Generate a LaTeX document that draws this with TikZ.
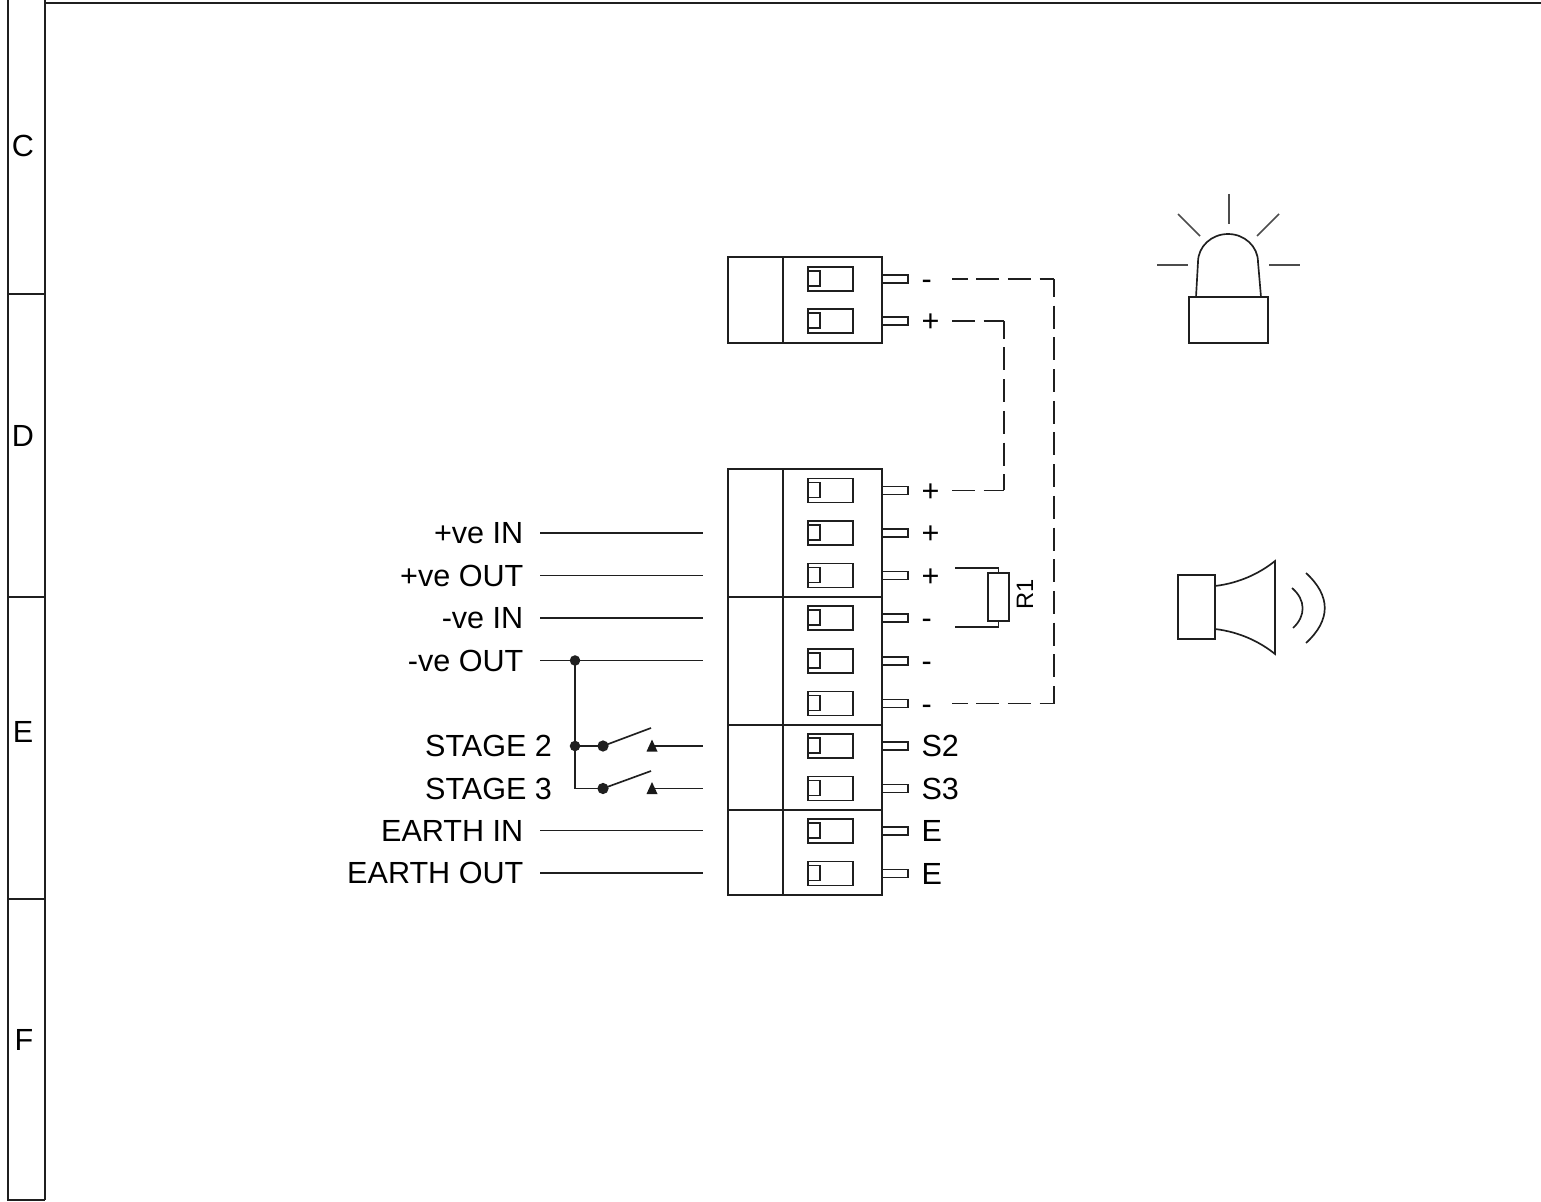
\documentclass[tikz,border=0pt]{standalone}
\usepackage{fontspec}
\setmainfont{Liberation Sans}
\usepackage{tikz}
\usetikzlibrary{positioning,calc}
\tikzset{
  wireline/.style={line width=0.95pt,black!88},
  alarmwire/.style={line width=0.95pt,black!88,dash pattern=on 13.1pt off 4.94pt,dash phase=#1},
  alarmwire/.default=0pt,
  wirelabel/.style={font=\fontsize{17.4}{20}\selectfont,text height=12.4pt,text depth=0pt,anchor=east,inner xsep=9.5pt,inner ysep=0pt,outer sep=0pt},
  pinlabel/.style={font=\fontsize{17.4}{20}\selectfont,text height=12.4pt,text depth=0pt,anchor=west,inner sep=0pt,outer sep=0pt},
  zonelabel/.style={font=\fontsize{17.4}{20}\selectfont,inner sep=0pt},
  junction/.style={circle,fill=black!88,inner sep=0pt,minimum size=#1},
}

\begin{document}
\begin{tikzpicture}[x=0.02cm,y=-0.02cm]
        \useasboundingbox (0,0) rectangle (1541,1202);

        % drawing frame
        \draw[wireline] (8,0) -- (8,1200) -- (45,1200);
        \draw[wireline] (45,1200) -- (45,3) -- (1541,3);
        \draw[wireline] (45,0) -- (45,3);
        \foreach \y in {294,597,899}
          \draw[wireline] (8,\y) -- (45,\y);
        \node[zonelabel] (zoneC) at (23,146) {C};
        \node[zonelabel] (zoneD) at (23,436) {D};
        \node[zonelabel] (zoneE) at (23,732) {E};
        \node[zonelabel] (zoneF) at (24,1040) {F};

        % terminal blocks
        \draw[wireline] (728,257) rectangle (882,343);
        \draw[wireline] (783,257) -- (783,343);
        \draw[wireline] (728,469) rectangle (882,895);
        \draw[wireline] (783,469) -- (783,895);
        \foreach \y in {597,725,810}
          \draw[wireline] (728,\y) -- (882,\y);

        % terminals
        \foreach \tname/\y/\txt in {t1/279/-,t2/321/+,t3/490.5/+,t4/533/+,t5/575.5/+,t6/618/-,t7/661/-,t8/703.5/-,t9/746/S2,t10/788.5/S3,t11/831/E,t12/873.5/E}{
          \draw[wireline] (808,\y-12) rectangle (853,\y+12);
          \draw[wireline] (808,\y-8) rectangle (820,\y+7);
          \draw[wireline] (882,\y-4) rectangle (908,\y+4);
          \node[pinlabel] (\tname) at (921.5,\y) {\txt};
        }

        % field wiring
        \foreach \wname/\y/\txt in {w1/533/+ve IN,w2/575.5/+ve OUT,w3/618/-ve IN,w4/660.5/-ve OUT,w5/830.5/EARTH IN,w6/873/EARTH OUT}{
          \node[wirelabel] (\wname) at (540,\y) {\txt};
          \coordinate (\wname end) at (703,\y);
          \draw[wireline] (\wname.east) -- (\wname end);
        }
        \node[wirelabel,inner xsep=0pt] (stageA) at (552,746) {STAGE 2};
        \node[wirelabel,inner xsep=0pt] (stageB) at (552,788.5) {STAGE 3};

        % stage switches
        \node[junction=6pt] (jA) at (575,660.5) {};
        \node[junction=6pt] (jB) at (575,746) {};
        \node[junction=6.4pt] (swA) at (603,746) {};
        \node[junction=6.4pt] (swB) at (603,788.5) {};
        \coordinate (cornerB) at (575,788.5);
        \draw[wireline] (jA.center) -- (jB.center) -- (cornerB) -- (swB.center);
        \draw[wireline] (jB.center) -- (swA.center);
        \coordinate (bladeA) at (651,728);
        \coordinate (bladeB) at (651,771);
        \draw[wireline] (swA.center) -- (bladeA);
        \draw[wireline] (swB.center) -- (bladeB);
        \foreach \y/\cname in {746/A,788.5/B}{
          \coordinate (contact\cname) at (653,\y);
          \coordinate (return\cname) at (703,\y);
          \draw[wireline] (contact\cname) -- (return\cname);
          \fill[black!90] (646.5,\y+5.5) -- (652,\y-6.5) -- (657.5,\y+5.5) -- cycle;
        }

        % resistor
        \node[draw,line width=0.95pt,black!88,inner sep=0pt,minimum width=0.42cm,minimum height=0.96cm] (res) at (998.5,597) {};
        \node[font=\fontsize{13.5}{15}\selectfont,rotate=90,inner sep=0pt] (resname) at (1025,594) {R1};
        \coordinate (resA) at (955,568);
        \coordinate (resB) at (955,627);
        \draw[wireline] (resA) -| (res.north);
        \draw[wireline] (resB) -| (res.south);

        % alarm wiring
        \coordinate (dashA) at (952,279);
        \coordinate (dashB) at (1054,279);
        \coordinate (dashC) at (1054,703.5);
        \coordinate (dashD) at (952,703.5);
        \draw[alarmwire=4.27pt] (dashA) -- (dashB);
        \draw[alarmwire=2.85pt] (dashB) -- (dashC);
        \draw[alarmwire=4.27pt] (dashD) -- (dashC);
        \coordinate (dashE) at (952,321);
        \coordinate (dashF) at (1004,321);
        \coordinate (dashG) at (1004,490.5);
        \coordinate (dashH) at (952,490.5);
        \draw[alarmwire] (dashE) -- (dashF);
        \draw[alarmwire=3pt] (dashF) -- (dashG);
        \draw[alarmwire] (dashH) -- (dashG);

        % beacon
        \draw[wireline] (1189,297) rectangle (1268,343);
        \draw[wireline] (1196,297) -- (1198,262) arc[start angle=180,end angle=360,x radius=30,y radius=28] -- (1261,297);
        \draw[wireline,black!70] (1229,194) -- (1229,224);
        \draw[wireline,black!70] (1178,214) -- (1200,236);
        \draw[wireline,black!70] (1279,214) -- (1257,236);
        \draw[wireline,black!70] (1157,265) -- (1188,265);
        \draw[wireline,black!70] (1269,265) -- (1300,265);

        % sounder
        \draw[wireline] (1178,575) rectangle (1215,639);
        \draw[wireline] (1215,586) .. controls (1240,583) and (1260,573) .. (1275,561) -- (1275,654) .. controls (1260,642) and (1240,632) .. (1215,629);
        \draw[wireline] (1292,588) .. controls (1306,600) and (1306,616) .. (1293,628);
        \draw[wireline] (1306,573) .. controls (1331,596) and (1331,620) .. (1306,643);

      \end{tikzpicture}
\end{document}
